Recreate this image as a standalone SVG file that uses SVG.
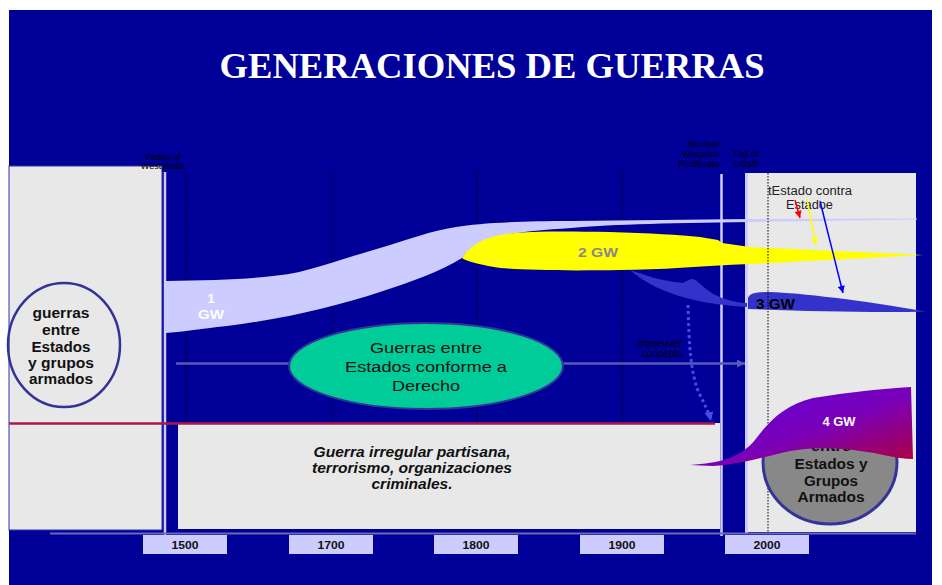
<svg xmlns="http://www.w3.org/2000/svg" width="942" height="585" viewBox="0 0 942 585">
<defs>
<style>
text{font-family:"Liberation Sans",Arial,Helvetica,sans-serif}
.panel{fill:#e8e8e8}
.vl{stroke:#ccccff;stroke-width:2.5;fill:none}
.dot{stroke:#000;stroke-width:1;stroke-dasharray:1.5 1.5;fill:none}
.yr{fill:#ccccff}
.yt{font-size:11px;font-weight:bold;fill:#111;text-anchor:middle}
.tiny{font-size:9px;fill:#000}
.circ{font-size:14px;font-weight:bold;fill:#111;text-anchor:middle}
.gwl{font-weight:bold}
</style>
<linearGradient id="g4" x1="0" y1="0" x2="1" y2="1">
<stop offset="0" stop-color="#5a00e0"/>
<stop offset="0.55" stop-color="#7a00b8"/>
<stop offset="1" stop-color="#b0003a"/>
</linearGradient>
<marker id="ah" viewBox="0 0 10 10" refX="10" refY="5" markerUnits="userSpaceOnUse" markerWidth="10" markerHeight="8" orient="auto"><path d="M0,0 L10,5 L0,10 Z" fill="#5a5ab4"/></marker>
<marker id="ad" viewBox="0 0 10 10" refX="10" refY="5" markerUnits="userSpaceOnUse" markerWidth="9" markerHeight="9" orient="auto"><path d="M0,0 L10,5 L0,10 Z" fill="#4a4ae6"/></marker>
<marker id="ar" viewBox="0 0 10 10" refX="10" refY="5" markerUnits="userSpaceOnUse" markerWidth="8" markerHeight="7" orient="auto"><path d="M0,0 L10,5 L0,10 Z" fill="#ff0000"/></marker>
<marker id="ay" viewBox="0 0 10 10" refX="10" refY="5" markerUnits="userSpaceOnUse" markerWidth="8" markerHeight="7" orient="auto"><path d="M0,0 L10,5 L0,10 Z" fill="#ffff00"/></marker>
<marker id="ab" viewBox="0 0 10 10" refX="10" refY="5" markerUnits="userSpaceOnUse" markerWidth="8" markerHeight="7" orient="auto"><path d="M0,0 L10,5 L0,10 Z" fill="#0000ff"/></marker>
</defs>

<rect x="0" y="0" width="942" height="585" fill="#ffffff"/>
<rect x="9" y="10" width="923" height="575" fill="#000099"/>

<g id="title">
<text x="492" y="78" text-anchor="middle" font-weight="bold" font-size="36" fill="#ffffff" textLength="545" lengthAdjust="spacingAndGlyphs" style="font-family:'Liberation Serif','Times New Roman',serif">GENERACIONES DE GUERRAS</text>
</g>

<g id="panel-left">
<rect class="panel" x="9" y="166" width="153" height="364" stroke="#3333aa" stroke-width="1"/>
</g>
<g id="panel-right">
<rect class="panel" x="748" y="173" width="168" height="359"/>
<line x1="746.5" y1="173" x2="746.5" y2="534" stroke="#ccccff" stroke-width="3"/>
</g>

<g id="gridlines">
<line class="dot" x1="186" y1="172" x2="186" y2="535"/>
<line class="dot" x1="332" y1="172" x2="332" y2="535"/>
<line class="dot" x1="477" y1="172" x2="477" y2="535"/>
<line class="dot" x1="622" y1="172" x2="622" y2="535"/>
</g>

<g id="panel-mid">
<rect class="panel" x="178" y="423" width="542" height="106"/>
</g>

<g id="timeline">
<line class="vl" x1="165" y1="172" x2="165" y2="536"/>
<line class="vl" x1="721.5" y1="174" x2="721.5" y2="536"/>
<line x1="50" y1="533.5" x2="916" y2="533.5" stroke="#6a6ab8" stroke-width="2"/>
<rect class="yr" x="143" y="535" width="84" height="19"/>
<rect class="yr" x="289" y="535" width="84" height="19"/>
<rect class="yr" x="434" y="535" width="84" height="19"/>
<rect class="yr" x="580" y="535" width="84" height="19"/>
<rect class="yr" x="725" y="535" width="84" height="19"/>
<text class="yt" x="185" y="549" textLength="27" lengthAdjust="spacingAndGlyphs">1500</text>
<text class="yt" x="331" y="549" textLength="27" lengthAdjust="spacingAndGlyphs">1700</text>
<text class="yt" x="476" y="549" textLength="27" lengthAdjust="spacingAndGlyphs">1800</text>
<text class="yt" x="622" y="549" textLength="27" lengthAdjust="spacingAndGlyphs">1900</text>
<text class="yt" x="767" y="549" textLength="27" lengthAdjust="spacingAndGlyphs">2000</text>
</g>

<g id="gw1">
<path d="M166,281 C230,280 275,278 303,271 C330,264 355,255 380,248 C410,239 430,231 456,227 C480,223 520,221 571,221 L750,219 L917,218.6 L917,219.6 L750,222 C660,223 600,225 571,228 C540,230 520,232 500,236 C480,241 468,249 462,258 C440,272 410,282 380,292 C340,305 290,318 227,326 C200,329 180,332 166,333 Z" fill="#ccccff"/>
<text class="gwl" x="211" y="303" text-anchor="middle" font-size="13" fill="#ffffff">1</text>
<text class="gwl" x="211" y="319" text-anchor="middle" font-size="13" fill="#ffffff" textLength="26" lengthAdjust="spacingAndGlyphs">GW</text>
</g>

<g id="connectors">
<line x1="176" y1="363.5" x2="745" y2="363.5" stroke="#5a5ab4" stroke-width="2.5" marker-end="url(#ah)"/>
</g>

<g id="ellipse-law">
<ellipse cx="426" cy="366" rx="137" ry="43" fill="#00cc99" stroke="#333399" stroke-width="2"/>
<text x="426" y="353" text-anchor="middle" font-size="15.5" fill="#111" textLength="112" lengthAdjust="spacingAndGlyphs">Guerras entre</text>
<text x="426" y="372" text-anchor="middle" font-size="15.5" fill="#111" textLength="162" lengthAdjust="spacingAndGlyphs">Estados conforme a</text>
<text x="426" y="391" text-anchor="middle" font-size="15.5" fill="#111" textLength="68" lengthAdjust="spacingAndGlyphs">Derecho</text>
</g>

<g id="gw3">
<path d="M630,270 C645,275 660,281 683,283 C687,281 690,279 693,279 C697,280 700,285 713,294 C725,300 738,303 747,303 L747,307 C730,306 710,304 690,299 C665,293 645,283 630,270 Z" fill="#3333cc"/>
<path d="M748,309 L748,298 C750,293 756,292 770,292 C800,293 860,300 926,311.5 C880,313 800,311 748,309 Z" fill="#3333cc"/>
</g>

<g id="gw2">
<path d="M462,258 C470,245 485,238 500,235 C520,231 560,231 609,232 C650,233 680,235 700,237 L718,240 L722,243 L750,247 L923,255 L750,264 C700,266 660,270 620,270 C560,271 510,270 494,267 C478,264 466,261 462,258 Z" fill="#ffff00"/>
<text class="gwl" x="598" y="257" text-anchor="middle" font-size="13" fill="#888888" textLength="40" lengthAdjust="spacingAndGlyphs">2 GW</text>
</g>
<text class="gwl" x="756" y="309" font-size="14" fill="#000" textLength="39" lengthAdjust="spacingAndGlyphs">3 GW</text>

<line class="dot" x1="768" y1="173" x2="768" y2="532" stroke="#555"/>

<g id="dotted-arrow">
<path d="M688,305 C689,340 690,375 700,395 C705,405 709,413 711,421" fill="none" stroke="#4a4ae6" stroke-width="3" stroke-dasharray="3 3" marker-end="url(#ad)"/>
</g>

<line x1="9" y1="423.5" x2="715" y2="423.5" stroke="#a8194d" stroke-width="2.5"/>

<g id="circle-left">
<ellipse cx="64" cy="345" rx="56" ry="62" fill="none" stroke="#333399" stroke-width="2.5"/>
<text class="circ" x="61" y="318" textLength="57" lengthAdjust="spacingAndGlyphs">guerras</text>
<text class="circ" x="61" y="335" textLength="38" lengthAdjust="spacingAndGlyphs">entre</text>
<text class="circ" x="61" y="352" textLength="59" lengthAdjust="spacingAndGlyphs">Estados</text>
<text class="circ" x="61" y="368" textLength="66" lengthAdjust="spacingAndGlyphs">y grupos</text>
<text class="circ" x="61" y="384" textLength="64" lengthAdjust="spacingAndGlyphs">armados</text>
</g>

<g id="circle-right">
<ellipse cx="830" cy="462" rx="67" ry="62" fill="#888888" stroke="#333399" stroke-width="3"/>
<text class="circ" x="831" y="451" textLength="40" lengthAdjust="spacingAndGlyphs">entre</text>
<text class="circ" x="831" y="469" textLength="73" lengthAdjust="spacingAndGlyphs">Estados y</text>
<text class="circ" x="831" y="486" textLength="54" lengthAdjust="spacingAndGlyphs">Grupos</text>
<text class="circ" x="831" y="502" textLength="67" lengthAdjust="spacingAndGlyphs">Armados</text>
</g>

<g id="gw4">
<path d="M690,465 C720,463 740,458 755,440 C770,420 785,405 813,398 C850,392 880,389 911,387 L913,459 C895,459 880,453 860,451 C840,448 815,447 790,451 C760,458 740,464 713,466 Z" fill="url(#g4)"/>
<text class="gwl" x="839" y="426" text-anchor="middle" font-size="12" fill="#ffffff" textLength="33" lengthAdjust="spacingAndGlyphs">4 GW</text>
</g>

<g id="text-guerra-irregular">
<text x="412" y="457" text-anchor="middle" font-size="14" font-weight="bold" font-style="italic" fill="#111" textLength="197" lengthAdjust="spacingAndGlyphs">Guerra irregular partisana,</text>
<text x="412" y="473" text-anchor="middle" font-size="14" font-weight="bold" font-style="italic" fill="#111" textLength="200" lengthAdjust="spacingAndGlyphs">terrorismo, organizaciones</text>
<text x="412" y="489" text-anchor="middle" font-size="14" font-weight="bold" font-style="italic" fill="#111" textLength="81" lengthAdjust="spacingAndGlyphs">criminales.</text>
</g>

<g id="small-labels">
<text class="tiny" x="163" y="160" text-anchor="middle">Peace of</text>
<text class="tiny" x="163" y="169" text-anchor="middle">Westphalia</text>
<text class="tiny" x="719.5" y="147" text-anchor="end">Nuclear</text>
<text class="tiny" x="719.5" y="157" text-anchor="end">Weapons</text>
<text class="tiny" x="719.5" y="166.5" text-anchor="end">Proliferate</text>
<text class="tiny" x="734" y="157">Fall of</text>
<text class="tiny" x="734" y="166.5">USSR</text>
<text x="682" y="347" text-anchor="end" font-size="10" fill="#000">maneuver</text>
<text x="682" y="357" text-anchor="end" font-size="10" fill="#000">concepts</text>
</g>

<g id="estado-contra-estado">
<text x="768" y="195" font-size="12.5" fill="#222" textLength="84" lengthAdjust="spacingAndGlyphs">tEstado contra</text>
<text x="786" y="209" font-size="12.5" fill="#222" textLength="47" lengthAdjust="spacingAndGlyphs">Estadoe</text>
</g>

<g id="connectors-right">
<line x1="795" y1="200" x2="800" y2="218" stroke="#ff0000" stroke-width="1.5" marker-end="url(#ar)"/>
<line x1="807" y1="199" x2="816" y2="245" stroke="#ffff00" stroke-width="1.5" marker-end="url(#ay)"/>
<line x1="820" y1="201" x2="843" y2="293" stroke="#0000ff" stroke-width="1.5" marker-end="url(#ab)"/>
</g>
</svg>
